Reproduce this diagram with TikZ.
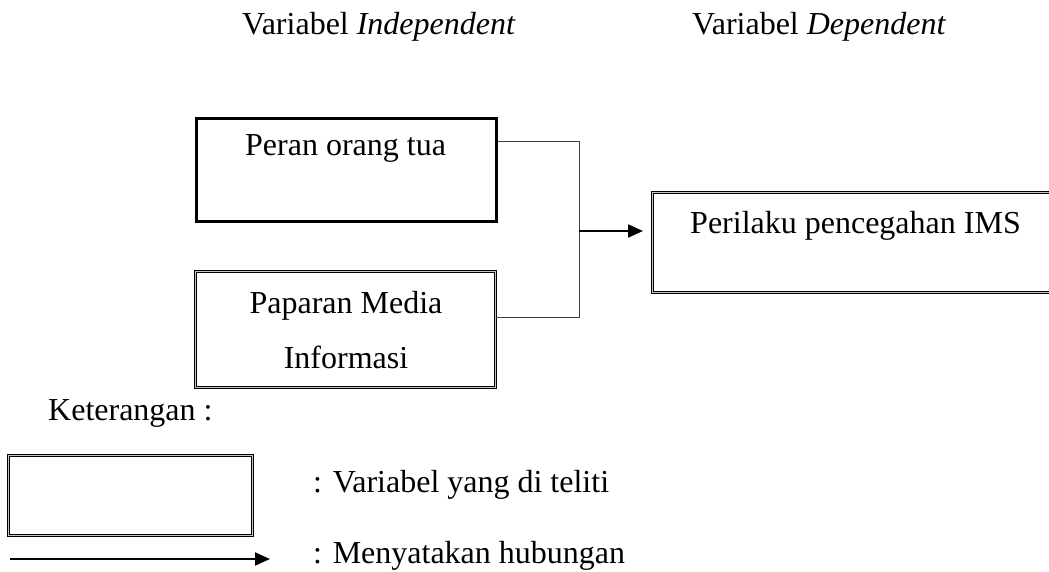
\documentclass[tikz,border=0pt]{standalone}
\usepackage{fontspec}
\setmainfont{Liberation Serif}
\usetikzlibrary{arrows.meta}
\begin{document}
\begin{tikzpicture}[x=1pt,y=-1pt,
  txt/.style={inner sep=0pt,anchor=base west,font=\fontsize{32}{38}\selectfont},
  thickbox/.style={draw=black,line width=3pt,rectangle,inner sep=0pt,anchor=north west},
  dblbox/.style={draw=black,line width=1.1pt,double=gray!45,double distance=1.4pt,rectangle,inner sep=0pt,anchor=north west},
  conn/.style={draw=black!75,line width=1pt},
  arr/.style={draw=black,line width=2pt,-{Triangle[length=15pt,width=13pt]}}]
\useasboundingbox (0,0) rectangle (1049,571);
\begin{scope}
\clip (0,0) rectangle (1049,571);
% headers
\node[txt] (h1) at (242,34) {Variabel \textit{Independent}};
\node[txt] (h2) at (692,34) {Variabel \textit{Dependent}};
% boxes
\node[thickbox,minimum width=300pt,minimum height=103pt] (b1) at (195,117) {};
\node[dblbox,minimum width=300pt,minimum height=116pt] (b2) at (195,271) {};
\node[dblbox,minimum width=420pt,minimum height=100pt] (b3) at (652,192) {};
\node[txt] (t1) at (245,155) {Peran orang tua};
\node[txt,anchor=base] (t2) at (346,313) {Paparan Media};
\node[txt,anchor=base] (t2b) at (346,368) {Informasi};
\node[txt] (t3) at (690,233) {Perilaku pencegahan IMS};
% connectors
\coordinate (j1) at (579,141);
\coordinate (j2) at (579,317);
\coordinate (jm) at (579,231);
\draw[conn] (j1 -| b1.east) -- (j1) -- (j2) -- (j2 -| b2.east);
\draw[arr,shorten >=9pt] (jm) -- (jm -| b3.west);
% legend
\node[txt] (k) at (48,420) {Keterangan :};
\node[dblbox,minimum width=244pt,minimum height=80pt] (lbox) at (8,455) {};
\node[txt] (l1) at (313,492) {: Variabel yang di teliti};
\coordinate (la) at (10,559);
\coordinate (lb) at (270,559);
\draw[arr] (la) -- (lb);
\node[txt] (l2) at (313,563) {: Menyatakan hubungan};
\end{scope}
\end{tikzpicture}
\end{document}
